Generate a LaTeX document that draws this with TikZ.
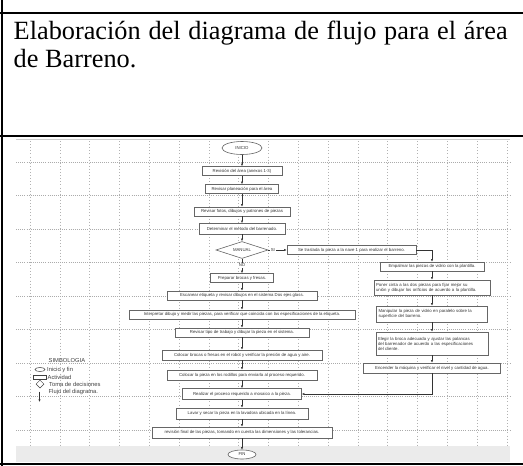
\documentclass[tikz,border=0pt]{standalone}
\usepackage{fontspec}
\setmainfont{Liberation Serif}
\newfontfamily\arialf{Liberation Sans}
\usetikzlibrary{shapes.geometric,arrows.meta}
\begin{document}
\begin{tikzpicture}[x=1pt,y=-1pt,
  fc/.style={draw=black!60, line width=0.6pt, fill=white, font=\arialf\fontsize{4.3}{5}\selectfont, text=black!80, inner xsep=2pt, inner ysep=1pt, minimum height=9pt},
  fcm/.style={fc, align=left},
  term/.style={ellipse, draw=black!60, line width=0.6pt, fill=white, font=\arialf\fontsize{4.3}{5}\selectfont, text=black!80, inner sep=0pt},
  dec/.style={diamond, draw=black!60, line width=0.6pt, fill=white, font=\arialf\fontsize{4.3}{5}\selectfont, text=black!80, inner sep=0pt, aspect=3},
  arr/.style={draw=black!80, line width=0.5pt, -{Latex[length=2.6pt,width=2.2pt]}},
  lbl/.style={font=\arialf\fontsize{4.3}{5}\selectfont, text=black!80, inner sep=0.8pt, fill=white},
  lgd/.style={font=\arialf\fontsize{5.8}{6.5}\selectfont, text=black!75, inner sep=0pt, anchor=west},
  vgrid/.style={draw=black!30, line width=0.5pt, dash pattern=on 0.5pt off 2.6pt},
  hgrid/.style={draw=black!33, line width=0.5pt, dash pattern=on 0.5pt off 1.6pt}]
\fill[white] (0,0) rectangle (523,466);
\useasboundingbox (0,0) rectangle (523,466);
% table frame
\draw[line width=2.2pt] (1.6,0) -- (1.6,466);
\draw[line width=2pt] (0,13) -- (523,13);
\draw[line width=2.2pt] (0,136) -- (523,136);
% title text
\node[anchor=base west, inner sep=0pt, font=\fontsize{26.3}{28}\selectfont] (t1) at (13.5,39) {\makebox[494pt][s]{Elaboración del diagrama de flujo para el área}};
\node[anchor=base west, inner sep=0pt, font=\fontsize{26.3}{28}\selectfont] (t2) at (13.5,67) {de Barreno.};
% screenshot background
\draw[black!20, line width=0.6pt] (16,139) -- (510,139);
\fill[black!8] (16,446) rectangle (510,462);
\foreach \i in {0,...,16} \draw[vgrid] ({30+29.8*\i},141) -- ({30+29.8*\i},446);
\foreach \j in {0,...,8} \draw[hgrid] (16,{162+33.5*\j}) -- (510,{162+33.5*\j});
% main column
\node[term, minimum width=40pt, minimum height=13pt] (ini) at (242,148) {INICIO};
\node[fc, minimum width=80pt] (b1) at (242,171) {Revisión del área (anexos 1-3)};
\node[fc, minimum width=73pt] (b2) at (242,189) {Revisar planeación para el área};
\node[fc, minimum width=96pt] (b3) at (242,211.5) {Revisar fotos, dibujos y patrones de piezas};
\node[fc, minimum width=86pt, minimum height=10.5pt] (b4) at (242,228.7) {Determinar el método del barrenado.};
\node[dec, minimum width=52pt, minimum height=17pt] (d) at (242,250) {MANUAL};
\node[fc, minimum width=63pt] (p1) at (242,278) {Preparar brocas y fresas.};
\node[fc, minimum width=150pt] (p2) at (242,295.5) {Escanear etiqueta y revisar dibujos en el sistema Dos ejes glass.};
\node[fc, minimum width=226pt] (p3) at (242,314.5) {Interpretar dibujo y medir las piezas, para verificar que coincida con las especificaciones de la etiqueta.};
\node[fc, minimum width=134pt] (p4) at (242,332.5) {Revisar tipo de trabajo y dibujar la pieza en el sistema.};
\node[fc, minimum width=160pt, minimum height=10pt] (p5) at (242,355) {Colocar brocas o fresas en el robot y verificar la presión de agua y aire.};
\node[fc, minimum width=150pt, minimum height=10pt] (p6) at (242,375) {Colocar la pieza en los rodillos para enviarla al proceso requerido.};
\node[fc, minimum width=119pt, minimum height=11pt] (p7) at (242,394) {Realizar el proceso requerido a mosaico a la pieza.};
\node[fc, minimum width=132pt, minimum height=11pt] (p8) at (242,413.5) {Lavar y secar la pieza en la lavadora ubicada en la línea.};
\node[fc, minimum width=180pt, minimum height=11pt] (p9) at (242,432.5) {revisión final de las piezas, tomando en cuenta las dimensiones y las tolerancias.};
\node[term, minimum width=28pt, minimum height=9pt] (fin) at (242,454.5) {FIN};
% right column
\node[fc, minimum width=129pt] (r0) at (351.5,250) {Se traslada la pieza a la nave 1 para realizar el barreno.};
\node[fc, minimum width=104pt] (r1) at (432,266.5) {Empalmar las piezas de vidrio con la plantilla.};
\node[fcm, text width=112pt, minimum height=15pt] (r2) at (432,287.5) {Poner cinta a las dos piezas para fijar mejor su\\unión y dibujar los orificios de acuerdo a la plantilla.};
\node[fcm, text width=107pt, minimum height=16pt] (r3) at (432,314) {Manipular la pieza de vidrio en paralelo sobre la\\superficie del barreno.};
\node[fcm, text width=108pt, minimum height=23pt] (r4) at (432,343.5) {Elegir la broca adecuada y ajustar las palancas\\del barrenador de acuerdo a las especificaciones\\del cliente.};
\node[fc, minimum width=137pt, minimum height=10pt] (r5) at (432,368) {Encender la máquina y verificar el nivel y cantidad de agua.};
% connectors
\draw[arr] (ini) -- (b1);
\draw[arr] (b1) -- (b2);
\draw[arr] (b2) -- (b3);
\draw[arr] (b3) -- (b4);
\draw[arr] (b4) -- (d);
\draw[arr] (d.south) -- node[lbl, pos=0.45] {NO} (p1.north);
\draw[arr] (d.east) -- node[lbl, pos=0.25] {SI} (r0.west);
\draw[arr] (p1) -- (p2);
\draw[arr] (p2) -- (p3);
\draw[arr] (p3) -- (p4);
\draw[arr] (p4) -- (p5);
\draw[arr] (p5) -- (p6);
\draw[arr] (p6) -- (p7);
\draw[arr] (p7) -- (p8);
\draw[arr] (p8) -- (p9);
\draw[arr] (p9) -- (fin);
\draw[arr] (r0.east) -| (r1.north);
\draw[arr] (r1) -- (r2);
\draw[arr] (r2) -- (r3);
\draw[arr] (r3) -- (r4);
\draw[arr] (r4) -- (r5);
\draw[arr] (r5.south) |- (p7.east);
% legend
\node[lgd] (sim) at (48.5,361) {SIMBOLOGIA};
\node[ellipse, draw=black!75, line width=0.5pt, minimum width=10pt, minimum height=4pt, inner sep=0pt] (le) at (40,369.5) {};
\node[lgd] (let) at (47,369.5) {Inicio y fin};
\node[draw=black!75, line width=0.5pt, minimum width=13pt, minimum height=4.5pt, inner sep=0pt] (lr) at (39.5,377) {};
\node[lgd] (lrt) at (47.5,377) {Actividad};
\node[diamond, draw=black!75, line width=0.5pt, minimum width=8pt, minimum height=8pt, inner sep=0pt] (ld) at (40,384) {};
\node[lgd] (ldt) at (49,384.5) {Toma de decisiones};
\coordinate (la1) at (39.5,391.5);
\coordinate (la2) at (39.5,402);
\draw[arr] (la1) -- (la2);
\node[lgd] (lat) at (48.5,392) {Flujo del diagrama.};
% bottom frame
\draw[line width=2.5pt] (0,464) -- (523,464);
\end{tikzpicture}
\end{document}
